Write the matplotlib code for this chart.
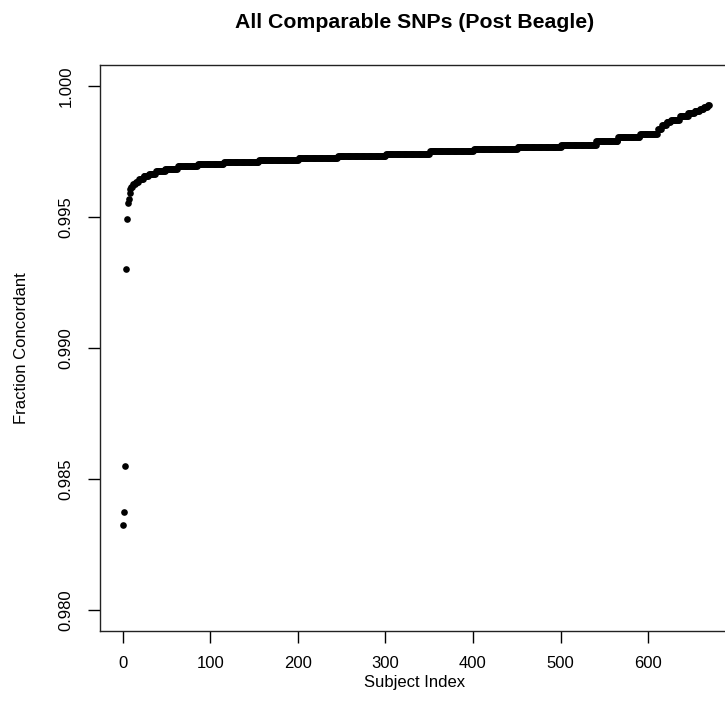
import matplotlib
matplotlib.use("Agg")
import matplotlib.pyplot as plt
import numpy as np

# sorted concordance values, stored as runs (value, how many subjects share it)
run_values = [
    0.98325, 0.98376, 0.98551, 0.99300, 0.99491, 0.99553, 0.99568, 0.99590,
    0.99605, 0.99615, 0.99625, 0.99635, 0.99645, 0.99655, 0.99665, 0.99675,
    0.99685, 0.99695, 0.99703, 0.99710, 0.99718, 0.99726, 0.99734, 0.99742,
    0.99750, 0.99758, 0.99766, 0.99775, 0.99790, 0.99805, 0.99818, 0.99835,
    0.99850, 0.99862, 0.99872, 0.99885, 0.99895, 0.99905, 0.99913, 0.99920,
    0.99926,
]
run_counts = [
    1, 1, 1, 1, 1, 1, 1, 1,
    1, 2, 3, 4, 5, 6, 8, 11,
    14, 23, 30, 40, 45, 45, 55, 50,
    50, 50, 50, 40, 25, 25, 20, 5,
    5, 5, 10, 10, 7, 6, 5, 4,
    2,
]

x_ticks = [0, 100, 200, 300, 400, 500, 600]
y_ticks = [0.980, 0.985, 0.990, 0.995, 1.000]
y_range = (0.98, 1.0)

concordance = np.repeat(run_values, run_counts)
n = len(concordance)
subject = np.arange(1, n + 1)

plt.rcParams['font.family'] = ['Liberation Sans', 'DejaVu Sans']

fig = plt.figure(figsize=(7.25, 7.22), dpi=100)
# plot box runs past the right edge of the picture, as in the reference
ax = fig.add_axes([100 / 725, 1 - 631 / 722, 632 / 725, 566 / 722])

ax.plot(subject, concordance, 'o', color='black', markersize=4.8, markeredgewidth=0)

# R-style 4% padding
pad_x = 0.04 * (n - 1)
ax.set_xlim(1 - pad_x, n + pad_x)
pad_y = 0.04 * (y_range[1] - y_range[0])
ax.set_ylim(y_range[0] - pad_y, y_range[1] + pad_y)

ax.set_xticks(x_ticks)
ax.set_xticklabels([str(v) for v in x_ticks])
ax.set_yticks(y_ticks)
ax.set_yticklabels([f"{v:.3f}" for v in y_ticks], rotation=90, va='center')

ax.tick_params(direction='out', length=8.6, width=1, colors='black',
               labelsize=12, pad=9.5)
ax.tick_params(axis='y', pad=10.5)
for s in ax.spines.values():
    s.set_linewidth(1)
    s.set_color('#222222')

fig.text(415 / 725, 1 - 23 / 722, "All Comparable SNPs (Post Beagle)",
         ha='center', va='center', fontsize=15.3, fontweight='bold')
fig.text(415 / 725, 1 - 682 / 722, "Subject Index", ha='center', va='center', fontsize=12)
fig.text(22 / 725, 1 - 348 / 722, "Fraction Concordant", ha='center', va='center',
         rotation=90, fontsize=12)

fig.savefig("out.png", dpi=100)
